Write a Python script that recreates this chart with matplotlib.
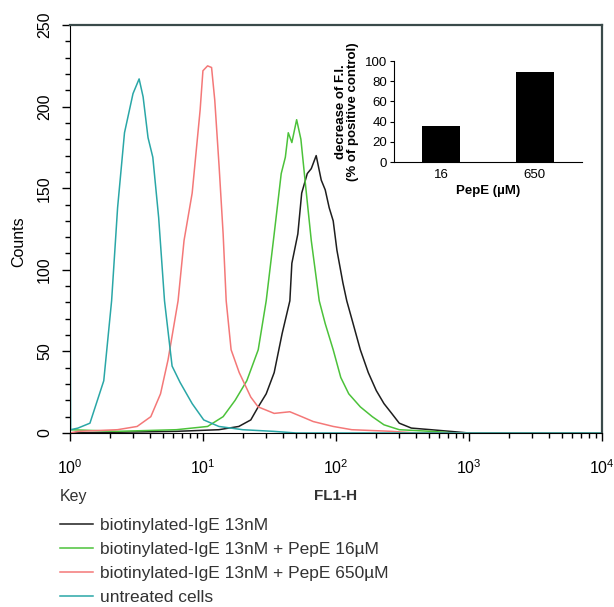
import matplotlib.pyplot as plt
from matplotlib.ticker import MultipleLocator, LogLocator, NullFormatter
import numpy as np

plt.rcParams['font.family'] = ['Liberation Sans', 'DejaVu Sans']

# histogram traces: FL1-H channel (log10) and counts
black_logx = [0.0, 0.80, 1.12, 1.27, 1.36, 1.416, 1.476, 1.536, 1.596, 1.654, 1.669, 1.714, 1.743,
              1.785, 1.815, 1.852, 1.89, 1.92, 1.95, 1.98, 2.008, 2.053, 2.082, 2.123, 2.184,
              2.244, 2.304, 2.362, 2.42, 2.477, 2.568, 2.716, 2.86, 3.0, 4.0]
black_counts = [0, 1, 2, 4, 8, 16, 24, 37, 61, 81, 104, 122, 147,
                159, 162, 170, 155, 149, 138, 130, 112, 92, 81, 69, 51,
                37, 26, 18, 12, 6, 3, 2, 1, 0, 0]

green_logx = [0.0, 0.354, 0.80, 1.035, 1.152, 1.242, 1.33, 1.416, 1.476, 1.536, 1.589, 1.62, 1.642,
              1.669, 1.705, 1.737, 1.773, 1.815, 1.875, 1.92, 1.98, 2.037, 2.097, 2.184,
              2.274, 2.362, 2.477, 2.716, 2.9, 4.0]
green_counts = [2, 1, 2, 4, 10, 20, 32, 51, 81, 122, 159, 169, 184,
                178, 192, 180, 151, 118, 81, 67, 51, 34, 24, 16,
                10, 5, 2, 1, 0, 0]

red_logx = [0.0, 0.06, 0.357, 0.505, 0.608, 0.681, 0.738, 0.813, 0.858, 0.919, 0.979, 1.0, 1.035,
            1.065, 1.089, 1.122, 1.152, 1.175, 1.212, 1.273, 1.36, 1.415, 1.536, 1.654,
            1.743, 1.83, 1.98, 2.12, 2.42, 2.6, 4.0]
red_counts = [0, 1, 2, 4, 10, 24, 45, 81, 118, 147, 198, 222, 225,
              224, 204, 163, 122, 81, 51, 37, 22, 16, 12, 13,
              10, 7, 4, 2, 1, 0, 0]

cyan_logx = [0.0, 0.0, 0.005, 0.06, 0.15, 0.254, 0.313, 0.358, 0.41, 0.474, 0.52, 0.55, 0.587,
             0.623, 0.667, 0.711, 0.768, 0.828, 0.919, 1.006, 1.12, 1.30, 1.53, 1.7, 4.0]
cyan_counts = [0, 98, 2, 3, 6, 32, 81, 138, 184, 208, 217, 206, 181,
               169, 132, 81, 41, 31, 18, 8, 4, 2, 1, 0, 0]

labels = ["biotinylated-IgE 13nM",
          "biotinylated-IgE 13nM + PepE 16\u00b5M",
          "biotinylated-IgE 13nM + PepE 650\u00b5M",
          "untreated cells"]
colors = ["#1e1e1e", "#4cc23a", "#f47878", "#2aa7a7"]

# inset bar chart
inset_cats = ["16", "650"]
inset_vals = [36, 89]

fig = plt.figure(figsize=(6.14, 6.07), dpi=100)
ax = fig.add_axes([0.114, 0.2867, 0.866, 0.672])

lines = []
for lx, cnt, lab, col in zip([black_logx, green_logx, red_logx, cyan_logx],
                             [black_counts, green_counts, red_counts, cyan_counts],
                             labels, colors):
    ln, = ax.plot(10 ** np.array(lx), cnt, color=col, lw=1.1, label=lab)
    lines.append(ln)

ax.set_xscale('log')
ax.set_xlim(1, 1e4)
ax.set_ylim(0, 250)
ax.yaxis.set_major_locator(MultipleLocator(50))
ax.yaxis.set_minor_locator(MultipleLocator(10))
ax.xaxis.set_minor_locator(LogLocator(base=10, subs=np.arange(2, 10)))
ax.xaxis.set_minor_formatter(NullFormatter())
ax.tick_params(axis='both', which='major', direction='out', length=6, width=1, labelsize=11.5)
ax.tick_params(axis='both', which='minor', direction='out', length=3.5, width=1)
ax.tick_params(axis='x', which='major', length=6, pad=12)
ax.tick_params(axis='y', which='major', pad=7)
for t in ax.get_yticklabels():
    t.set_rotation(90)
    t.set_va('center')
for side in ['top', 'right']:
    ax.spines[side].set_color('#3a4a4a')
    ax.spines[side].set_linewidth(1.6)

ax.set_ylabel("Counts", fontsize=11.5)
ax.yaxis.set_label_coords(-0.082, 0.468)
ax.set_xlabel("FL1-H", fontsize=11, fontweight='bold', color='#333333', va='center')
ax.xaxis.set_label_coords(0.5, -0.154)

fig.text(0.098, 0.182, "Key", fontsize=11.5, va='center', color='#333333')
fig.legend(handles=lines, labels=labels, loc='upper left', bbox_to_anchor=(0.097, 0.147),
           frameon=False, fontsize=12.5, handlelength=1.9, handletextpad=0.45,
           labelspacing=0.52, borderaxespad=0, borderpad=0, labelcolor='#333333')

# inset
ins = fig.add_axes([0.6417, 0.733, 0.306, 0.1664])
ins.bar(range(len(inset_cats)), inset_vals, width=0.4, color='black')
ins.set_xlim(-0.5, 1.5)
ins.set_ylim(0, 100)
ins.set_xticks(range(len(inset_cats)))
ins.set_xticklabels(inset_cats)
ins.yaxis.set_major_locator(MultipleLocator(20))
ins.tick_params(axis='x', length=0, labelsize=9.5, pad=5)
ins.tick_params(axis='y', direction='out', length=3, labelsize=9.5, pad=2)
for side in ['top', 'right']:
    ins.spines[side].set_visible(False)
ins.set_ylabel("decrease of F.I.\n(% of positive control)", fontsize=9.5, fontweight='bold',
               linespacing=1.0)
ins.set_xlabel("PepE (\u00b5M)", fontsize=9.5, fontweight='bold', labelpad=3)

fig.savefig("out.png", dpi=100)
